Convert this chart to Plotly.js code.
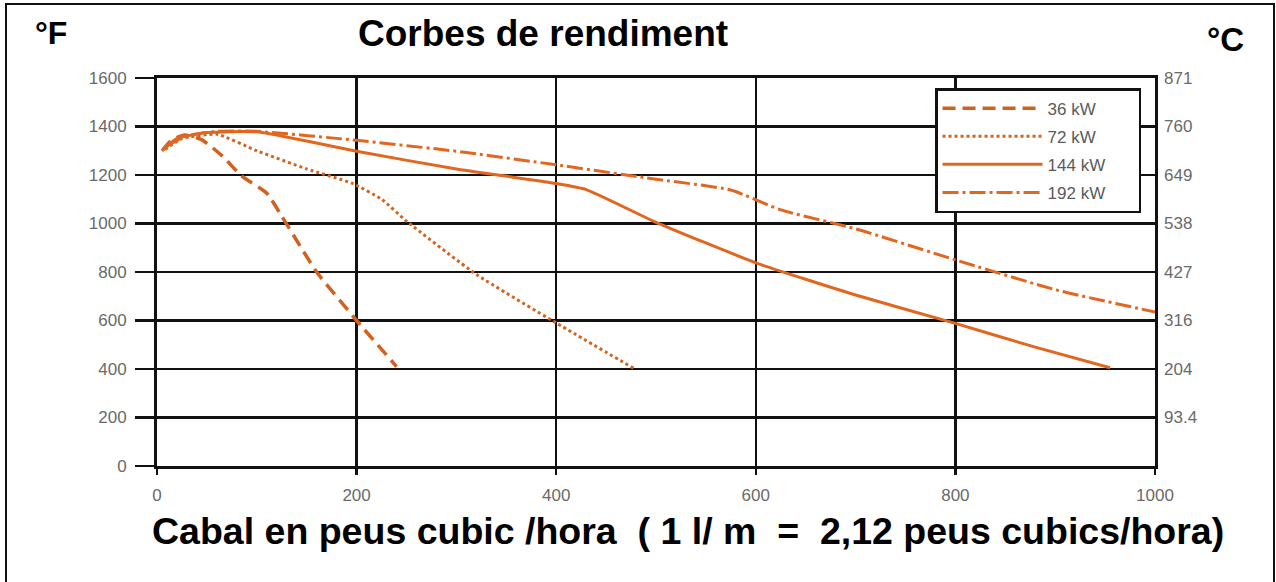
<!DOCTYPE html>
<html>
<head>
<meta charset="utf-8">
<script src="https://cdn.plot.ly/plotly-3.0.1.min.js"></script>
<style>
html,body{margin:0;padding:0;background:#fff;}
#chart{width:1276px;height:582px;}
</style>
</head>
<body>
<div id="chart"></div>
<script>
// Data (flow in cubic feet/hour vs temperature in °F)
const flow36 = [5, 15, 28, 45, 65, 85, 110, 125, 160, 200, 240];
const temp36 = [1300, 1345, 1365, 1345, 1280, 1195, 1125, 1030, 800, 600, 410];

const flow72 = [8, 25, 60, 100, 150, 196, 225, 250, 320, 400, 478];
const temp72 = [1305, 1350, 1368, 1300, 1225, 1165, 1100, 1010, 790, 590, 402];

const flow144 = [5, 20, 50, 100, 150, 200, 300, 400, 430, 500, 600, 700, 800, 880, 955];
const temp144 = [1300, 1350, 1375, 1378, 1340, 1298, 1225, 1165, 1140, 1005, 838, 705, 588, 490, 405];

const flow192 = [10, 30, 60, 100, 200, 300, 400, 490, 575, 625, 700, 800, 900, 1000];
const temp192 = [1320, 1362, 1380, 1380, 1343, 1298, 1242, 1188, 1138, 1056, 978, 850, 727, 635];

const seriesNames = ['36 kW', '72 kW', '144 kW', '192 kW'];

const fTicks = [0, 200, 400, 600, 800, 1000, 1200, 1400, 1600];
const cTickVals = [200, 400, 600, 800, 1000, 1200, 1400, 1600];
const cTickText = ['93.4', '204', '316', '427', '538', '649', '760', '871'];
const xTicks = [0, 200, 400, 600, 800, 1000];

const orange = '#E2661E';
const FONT = 'Liberation Sans, Arial, sans-serif';
const tickFont = {family: FONT, size: 17, color: '#6a6a6a'};
const pad = '\u00a0\u00a0\u00a0\u00a0\u00a0\u00a0';

const traces = [
  {x: flow36, y: temp36, name: seriesNames[0] + pad, mode: 'lines', legendgroup: 'a',
   line: {color: '#D2611F', width: 3.5, dash: '13px,7px', shape: 'spline', smoothing: 0.5}},
  {x: flow72, y: temp72, name: seriesNames[1] + pad, mode: 'lines', legendgroup: 'b',
   line: {color: '#D2641E', width: 3, dash: 'dot', shape: 'spline', smoothing: 0.5}},
  {x: flow144, y: temp144, name: seriesNames[2] + pad, mode: 'lines', legendgroup: 'c',
   line: {color: orange, width: 3, shape: 'spline', smoothing: 0.5}},
  {x: flow192, y: temp192, name: seriesNames[3] + pad, mode: 'lines', legendgroup: 'd',
   line: {color: orange, width: 3, dash: '16px,4px,3px,4px', shape: 'spline', smoothing: 0.5}},
  {x: [null], y: [null], yaxis: 'y2', mode: 'lines', showlegend: false, hoverinfo: 'skip'}
];

const layout = {
  width: 1276, height: 582,
  margin: {l: 157, r: 121, t: 78, b: 116},
  paper_bgcolor: '#fff', plot_bgcolor: '#fff',
  showlegend: true,
  title: {text: 'Corbes de rendiment', x: 0.4256, xanchor: 'center', xref: 'container',
          y: 0.943, yanchor: 'middle', yref: 'container',
          font: {family: FONT, size: 37, color: '#000', weight: 'bold'}},
  xaxis: {range: [0, 1000], tickvals: xTicks, ticks: 'outside', ticklen: 6, tickwidth: 2.5,
          tickcolor: '#111', showgrid: true, gridcolor: '#111', gridwidth: 2.5,
          showline: true, linecolor: '#111', linewidth: 3, mirror: true, zeroline: false,
          tickfont: tickFont, ticklabelstandoff: 6, fixedrange: true},
  yaxis: {range: [0, 1600], tickvals: fTicks, ticks: 'outside', ticklen: 19, tickwidth: 2.5,
          tickcolor: '#111', showgrid: true, gridcolor: '#111', gridwidth: 2.5,
          showline: true, linecolor: '#111', linewidth: 3, mirror: true, zeroline: false,
          tickfont: tickFont, ticklabelstandoff: 5, fixedrange: true},
  yaxis2: {range: [0, 1600], overlaying: 'y', side: 'right', tickvals: cTickVals, ticktext: cTickText,
           showgrid: false, zeroline: false, showline: false, ticks: '', tickfont: tickFont,
           ticklabelstandoff: 8, fixedrange: true},
  legend: {x: 0.7796, y: 0.974, xanchor: 'left', yanchor: 'top',
           bgcolor: '#fff', bordercolor: '#111', borderwidth: 2.5,
           itemwidth: 100, traceorder: 'grouped', tracegroupgap: 3,
           font: {family: FONT, size: 17, color: '#5a5a5a'}},
  annotations: [
    {text: '<b>°F</b>', xref: 'paper', yref: 'paper', x: (51 - 157) / 998, y: (466 - 33) / 388,
     xanchor: 'center', yanchor: 'middle', showarrow: false,
     font: {family: FONT, size: 32, color: '#000'}},
    {text: '<b>°C</b>', xref: 'paper', yref: 'paper', x: (1225 - 157) / 998, y: (466 - 40) / 388,
     xanchor: 'center', yanchor: 'middle', showarrow: false,
     font: {family: FONT, size: 33, color: '#000'}},
    {text: '<b>Cabal en peus cubic /hora  ( 1 l/ m  =  2,12 peus cubics/hora)</b>',
     xref: 'paper', yref: 'paper', x: (688 - 157) / 998, y: (466 - 531) / 388,
     xanchor: 'center', yanchor: 'middle', showarrow: false,
     font: {family: FONT, size: 37.5, color: '#000'}}
  ],
  shapes: [
    {type: 'rect', xref: 'paper', yref: 'paper',
     x0: (6 - 157) / 998, x1: (1274 - 157) / 998, y0: (466 - 600) / 388, y1: (466 - 4) / 388,
     line: {color: '#111', width: 2}, fillcolor: 'rgba(0,0,0,0)', layer: 'below'}
  ]
};

Plotly.newPlot('chart', traces, layout, {displayModeBar: false, staticPlot: true});
</script>
</body>
</html>
